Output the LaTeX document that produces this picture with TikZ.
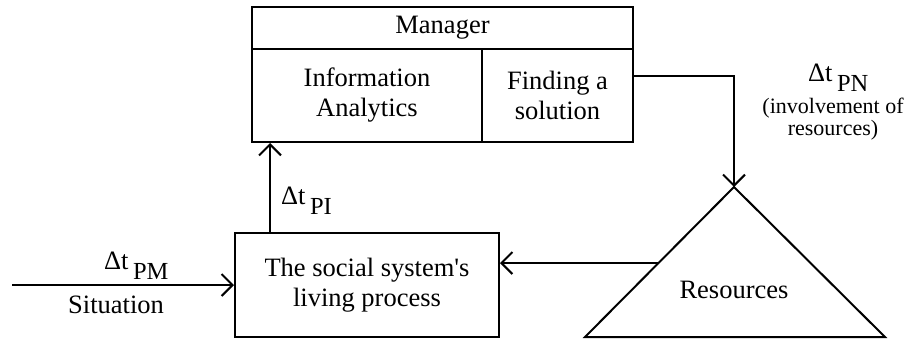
\documentclass[tikz,border=0pt]{standalone}
\usepackage{fontspec}
\setmainfont{Liberation Serif}
\usetikzlibrary{arrows.meta,calc}

% delta-t with a lowered index
\newcommand{\dtidx}[1]{\fontsize{26.5}{30}\selectfont Δt\,\raisebox{-0.36em}{\fontsize{24.5}{24.5}\selectfont #1}}

\tikzset{
  boxcell/.style={draw, line width=2pt, inner sep=0pt, align=center,
    font=\fontsize{26.5}{30}\selectfont},
  flow/.style={line width=2pt, -{Straight Barb[length=11pt, width=22pt, line width=2pt]}},
  plain/.style={line width=2pt},
  lbl/.style={inner sep=0pt, align=center, font=\fontsize{26.5}{30}\selectfont},
  smalllbl/.style={inner sep=0pt, align=center, font=\fontsize{22}{22}\selectfont},
}

\begin{document}
\begin{tikzpicture}[x=1pt, y=-1pt]
  \useasboundingbox (0,0) rectangle (905,340);

  % manager block
  \node[boxcell, minimum width=381pt, minimum height=42pt] (mgr) at (442.5,28) {Manager};
  \node[boxcell, minimum width=230pt, minimum height=93pt] (info) at (367,95.5) {Information\\Analytics};
  \node[boxcell, minimum width=151pt, minimum height=93pt] (sol) at (557.5,95.5) {Finding a\\solution};

  % social system
  \node[boxcell, minimum width=264pt, minimum height=104pt] (soc) at (367,285) {The social system\textquotesingle s\\living process};

  % resources triangle
  \coordinate (apex) at (734,187);
  \coordinate (baseL) at (585,337);
  \coordinate (baseR) at (885,337);
  \draw[plain, line join=miter] (apex) -- (baseR) -- (baseL) -- cycle;
  \node[lbl] (res) at (734,290) {Resources};
  \coordinate (resL) at ($(apex)!0.507!(baseL)$);

  % connectors
  \coordinate (bend) at (734,76);
  \draw[flow] (sol.east |- bend) -- (bend) -- (apex);
  \draw[flow] (resL) -- (soc.east |- resL);
  \coordinate (up) at (270,233);
  \draw[flow] (up) -- (up |- info.south);
  \coordinate (start) at (12,285);
  \draw[flow] (start) -- (soc.west |- start);

  % labels
  \node[lbl, anchor=west] (dpi) at (281,201) {\dtidx{PI}};
  \node[lbl, anchor=west] (dpm) at (104,266) {\dtidx{PM}};
  \node[lbl] (sit) at (116,305) {Situation};
  \node[lbl, anchor=west] (dpn) at (808,78) {\dtidx{PN}};
  \node[smalllbl] (inv) at (833,119) {(involvement of\\resources)};
\end{tikzpicture}
\end{document}
